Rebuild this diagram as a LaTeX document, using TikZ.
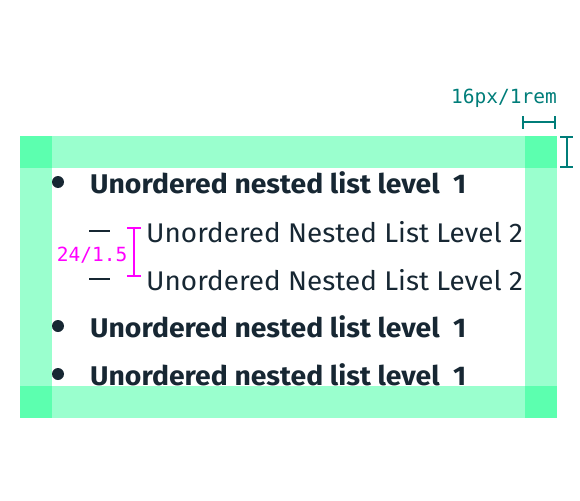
\documentclass[tikz,border=0pt]{standalone}
\usepackage{fontspec}
\setmainfont{Fira Sans}
\newfontfamily\dimfont{DejaVu Sans Mono}
\definecolor{inkdark}{HTML}{172733}
\definecolor{padlight}{HTML}{9AFFCE}
\definecolor{padcorner}{HTML}{5CFFAF}
\definecolor{teal}{HTML}{007D79}
\definecolor{magenta}{HTML}{FF00FF}
\newcommand{\boldline}{\scalebox{1.049}[1]{Unordered nested list level\ \ 1}}
\newcommand{\plainline}{\scalebox{1.032}[1]{Unordered Nested List Level 2}}
\tikzset{
  lvlone/.style={anchor=base west, inner sep=0pt, text=inkdark,
    font=\fontsize{27}{27}\selectfont\bfseries},
  lvltwo/.style={anchor=base west, inner sep=0pt, text=inkdark,
    font=\fontsize{27}{27}\selectfont},
  dimlabel/.style={inner sep=0pt, font=\dimfont\fontsize{19.5}{19.5}\selectfont},
  dimline/.style={line width=2.6pt},
  pad/.style={fill=padlight},
  padc/.style={fill=padcorner},
}
\begin{document}
\begin{tikzpicture}[x=1pt,y=-1pt]
\useasboundingbox (0,0) rectangle (580,500);

% list items
\fill[inkdark] (58,182) circle (6);
\node[lvlone] (l1a) at (90,193) {\boldline};
\draw[inkdark, line width=1.8pt] (89,231) -- (110,231);
\node[lvltwo] (l2a) at (146,242) {\plainline};
\draw[inkdark, line width=1.8pt] (89,279) -- (110,279);
\node[lvltwo] (l2b) at (146,290) {\plainline};
\fill[inkdark] (58,326) circle (6);
\node[lvlone] (l1b) at (90,337) {\boldline};
\fill[inkdark] (58,374) circle (6);
\node[lvlone] (l1c) at (90,385) {\boldline};

% padding frame
\fill[pad] (20,136) rectangle (557,168);
\fill[pad] (20,386) rectangle (557,418);
\fill[pad] (20,136) rectangle (52,418);
\fill[pad] (525,136) rectangle (557,418);
\fill[padc] (20,136) rectangle (52,168);
\fill[padc] (525,136) rectangle (557,168);
\fill[padc] (20,386) rectangle (52,418);
\fill[padc] (525,386) rectangle (557,418);

% line-height dimension
\coordinate (lhtop) at (134,228);
\coordinate (lhbot) at (134,276);
\draw[magenta, dimline] (lhtop) -- (lhbot);
\draw[magenta, dimline] ([xshift=-7]lhtop) -- ([xshift=7]lhtop);
\draw[magenta, dimline] ([xshift=-7]lhbot) -- ([xshift=7]lhbot);
\node[dimlabel, text=magenta, anchor=base east] (lhlabel) at (127.5,261) {24/1.5};

% padding dimensions
\coordinate (hl) at (523,122);
\coordinate (hr) at (555,122);
\draw[teal, dimline] (hl) -- (hr);
\draw[teal, dimline] ([yshift=-6.5]hl) -- ([yshift=6.5]hl);
\draw[teal, dimline] ([yshift=-6.5]hr) -- ([yshift=6.5]hr);
\node[dimlabel, text=teal, anchor=base east] (padlabel) at (557,103) {16px/1rem};
\coordinate (vt) at (567,137);
\coordinate (vb) at (567,167);
\draw[teal, dimline] (vt) -- (vb);
\draw[teal, dimline] ([xshift=-7]vt) -- ([xshift=6]vt);
\draw[teal, dimline] ([xshift=-7]vb) -- ([xshift=6]vb);
\end{tikzpicture}
\end{document}
